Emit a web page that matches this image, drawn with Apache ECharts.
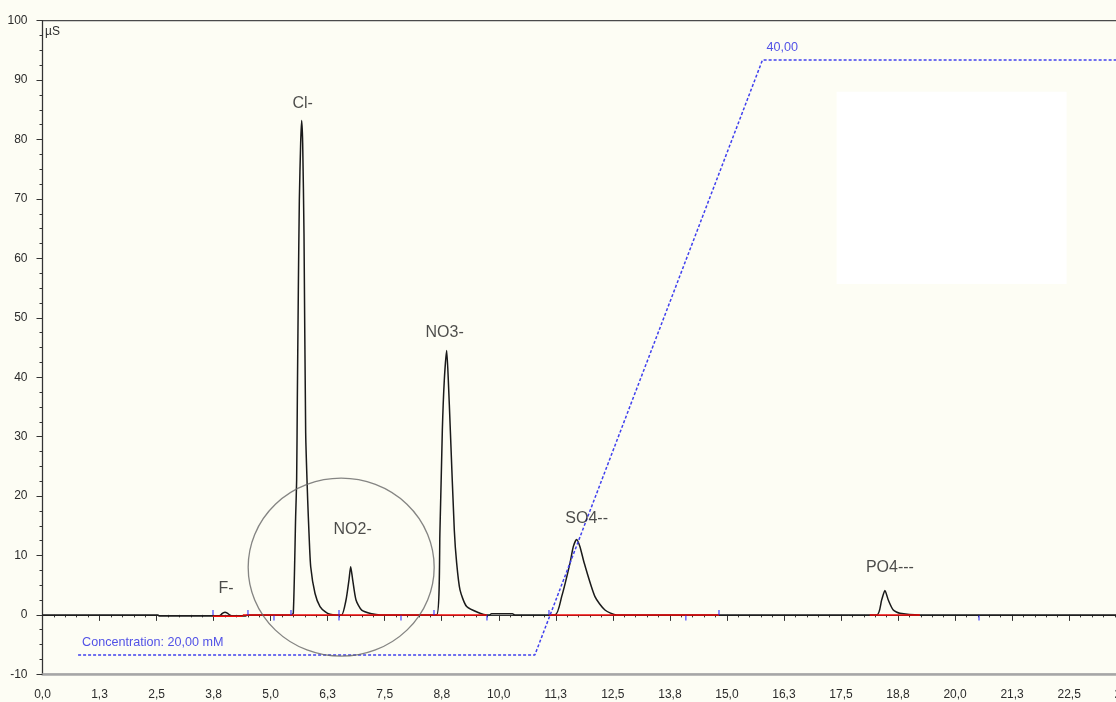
<!DOCTYPE html>
<html>
<head>
<meta charset="utf-8">
<script src="https://cdn.jsdelivr.net/npm/echarts@6/dist/echarts.min.js"></script>
<style>
  html, body { margin: 0; padding: 0; background: #fdfdf4; }
  #chart { width: 1116px; height: 702px; }
</style>
</head>
<body>
<div id="chart"></div>
<script>
// Retention time axis (min), labelled every 1.25 min with one decimal
const xTickLabels = ['0,0','1,3','2,5','3,8','5,0','6,3','7,5','8,8','10,0','11,3','12,5','13,8',
                     '15,0','16,3','17,5','18,8','20,0','21,3','22,5','23,8','25,0'];
const xTickStep = 1.25;

// Conductivity signal, [time (min), µS]
const chromatogram = [
  [0, 0], [2.53, 0], [2.56, -0.2], [3.86, -0.2], [3.92, 0.1], [3.96, 0.35], [4.0, 0.45],
  [4.05, 0.3], [4.1, 0], [4.16, -0.2], [4.45, -0.2], [4.5, 0],
  [5.45, 0], [5.497, 0.3], [5.548, 16.5], [5.570, 22.7], [5.585, 36.2], [5.607, 54.7],
  [5.629, 69.8], [5.658, 79.4], [5.680, 83.2], [5.702, 79.4], [5.731, 64.2], [5.768, 30.6],
  [5.812, 19.3], [5.841, 13.7], [5.878, 8.1], [5.973, 3.6], [6.082, 1.4], [6.2, 0.5],
  [6.301, 0.1], [6.45, 0],
  [6.557, 0], [6.652, 2.5], [6.717, 5.9], [6.754, 8.1], [6.798, 5.9], [6.871, 2.5],
  [6.995, 0.8], [7.214, 0.2], [7.4, 0],
  [8.638, 0], [8.711, 14.3], [8.763, 31.1], [8.806, 39.5], [8.858, 44.5], [8.894, 39.5],
  [8.938, 31.1], [9.025, 14.3], [9.077, 8.7], [9.150, 4.2], [9.296, 1.4], [9.588, 0.27], [9.74, 0],
  [9.80, 0], [9.84, 0.2], [10.3, 0.2], [10.35, 0],
  [11.232, 0], [11.378, 3.07], [11.560, 8.68], [11.633, 11.48], [11.706, 12.7], [11.779, 11.48],
  [11.874, 8.68], [12.108, 3.07], [12.327, 0.82], [12.583, 0],
  [18.281, 0], [18.391, 2.5], [18.463, 4.1], [18.537, 2.5], [18.646, 0.82], [18.792, 0.27],
  [19.23, 0], [25, 0]
];

// Identified peaks
const peakNames   = ['F-', 'Cl-', 'NO2-', 'NO3-', 'SO4--', 'PO4---'];
const peakTimes   = [4.0, 5.680, 6.754, 8.858, 11.706, 18.463];
const peakHeights = [0.45, 83.2, 8.1, 44.5, 12.7, 4.1];

// Integration baselines
const integrationStart = [3.73, 4.39, 11.10, 18.13];
const integrationEnd   = [4.39, 9.74, 14.83, 19.23];
const integrationLevel = [-0.25, 0, 0, 0];

// Peak start / end markers (min)
const markersUp   = [3.737, 4.503, 5.446, 6.498, 8.580, 11.10, 14.826];
const markersDown = [5.073, 6.498, 7.857, 9.741, 14.10, 20.525];

// Eluent gradient, concentration in mM
const gradientTime = [0.78, 10.79, 15.78, 25];
const gradientConc = [20, 20, 40, 40];

const fmt2 = v => v.toFixed(2).replace('.', ',');

const peakLabelOffsets = [[1, -24], [1, -17], [2, -37], [-2, -18], [10, -21], [5, -23]];
const labelFont = 'Liberation Sans, Arial, sans-serif';

const baselineData = [];
integrationStart.forEach((s, i) => {
  baselineData.push([s, integrationLevel[i]], [integrationEnd[i], integrationLevel[i]], '-');
});

const chart = echarts.init(document.getElementById('chart'), null, { renderer: 'canvas' });

chart.setOption({
  backgroundColor: '#fdfdf4',
  animation: false,
  textStyle: { fontFamily: labelFont },
  grid: {
    left: 42.5, right: -67.2, top: 20.7, bottom: 27.7,
    outerBoundsMode: 'none', containLabel: false,
    show: true, borderColor: '#4a4a4a', borderWidth: 1.3, backgroundColor: 'transparent'
  },
  xAxis: [{
    type: 'value', min: 0, max: 25, interval: xTickStep, offset: 7,
    axisLine: { show: true, lineStyle: { color: '#333', width: 1 } },
    axisTick: { show: true, length: 6, lineStyle: { color: '#333' } },
    minorTick: { show: true, splitNumber: 5, length: 2.5, lineStyle: { color: '#333' } },
    splitLine: { show: false },
    axisLabel: {
      color: '#2b2b2b', fontSize: 12, margin: 7, showMinLabel: true, showMaxLabel: true,
      hideOverlap: false,
      formatter: v => xTickLabels[Math.round(v / xTickStep)]
    }
  }, {
    type: 'value', min: 0, max: 25, position: 'bottom', offset: 0,
    axisLine: { show: true, lineStyle: { color: '#a6a6a6', width: 2.5 } },
    axisTick: { show: false }, axisLabel: { show: false }, splitLine: { show: false }
  }],
  yAxis: [{
    type: 'value', min: -10, max: 100, interval: 10, offset: 7,
    axisLine: { show: true, lineStyle: { color: '#333', width: 1 } },
    axisTick: { show: true, length: 6, lineStyle: { color: '#333' } },
    minorTick: { show: true, splitNumber: 4, length: 3, lineStyle: { color: '#333' } },
    splitLine: { show: false },
    axisLabel: { color: '#2b2b2b', fontSize: 12, margin: 8, showMinLabel: true, showMaxLabel: true }
  }, {
    // concentration scale of the eluent gradient (mM)
    type: 'value', min: 19.351, max: 41.318, show: false
  }],
  graphic: [{
    type: 'text', left: 45, top: 26,
    style: { text: 'µS', fontSize: 12, fontFamily: labelFont, fill: '#2b2b2b' }
  }],
  series: [
    {
      name: 'signal', type: 'line', data: chromatogram, showSymbol: false, smooth: 0.22,
      lineStyle: { color: '#1a1a1a', width: 1.5 }, z: 3,
      markArea: {
        silent: true, itemStyle: { color: '#ffffff' },
        data: [[{ coord: [17.405, 88.05] }, { coord: [22.446, 55.69] }]]
      }
    },
    {
      name: 'baseline', type: 'line', data: baselineData, showSymbol: false, connectNulls: false,
      lineStyle: { color: '#f00a0a', width: 1.5 }, z: 4
    },
    {
      name: 'gradient', type: 'line', yAxisIndex: 1,
      data: gradientTime.map((t, i) => [t, gradientConc[i]]),
      showSymbol: false, lineStyle: { color: '#4040ee', width: 1.5, type: [3, 2] }, z: 5
    },
    {
      name: 'gradientLabels', type: 'scatter', yAxisIndex: 1, symbolSize: 1,
      itemStyle: { color: 'transparent' }, z: 6,
      data: [
        { value: [gradientTime[0], gradientConc[0]], label: { formatter: () => 'Concentration: ' + fmt2(gradientConc[0]) + ' mM' } },
        { value: [gradientTime[2], gradientConc[2]], label: { formatter: () => fmt2(gradientConc[2]) } }
      ],
      label: { show: true, position: 'top', align: 'left', distance: 5, offset: [4, 0], color: '#2626e2', fontSize: 12.6, fontFamily: labelFont }
    },
    {
      name: 'markersUp', type: 'scatter', data: markersUp.map(t => [t, 0]),
      symbol: 'rect', symbolSize: [1.3, 5], symbolOffset: [0, -2.5],
      itemStyle: { color: '#2a2aff' }, z: 6, silent: true
    },
    {
      name: 'markersDown', type: 'scatter', data: markersDown.map(t => [t, 0]),
      symbol: 'rect', symbolSize: [1.3, 5], symbolOffset: [0, 3],
      itemStyle: { color: '#2a2aff' }, z: 6, silent: true
    },
    {
      name: 'peaks', type: 'scatter', symbolSize: 1, itemStyle: { color: 'transparent' }, z: 7,
      data: peakNames.map((n, i) => ({
        name: n, value: [peakTimes[i], peakHeights[i]],
        label: { offset: peakLabelOffsets[i] }
      })),
      label: { show: true, position: 'inside', formatter: p => p.name, color: '#1e1e1e', fontSize: 16, fontFamily: labelFont }
    },
    {
      // circled region around the nitrite peak
      name: 'highlight', type: 'scatter', data: [[6.546, 8.03]],
      symbol: 'circle', symbolSize: [186, 178],
      itemStyle: { color: 'transparent', borderColor: '#666666', borderWidth: 1.3 }, z: 8, silent: true
    }
  ]
});
</script>
</body>
</html>
